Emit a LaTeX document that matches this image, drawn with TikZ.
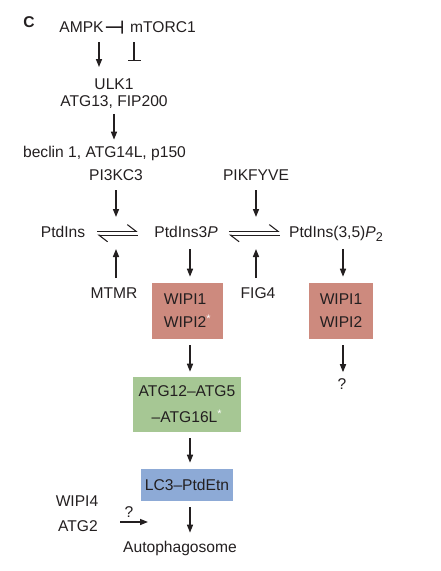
\documentclass[tikz,border=0pt]{standalone}
\usepackage{fontspec}
\setmainfont{Liberation Sans}
\usetikzlibrary{arrows.meta, positioning}

\definecolor{wipired}{RGB}{205,138,126}
\definecolor{atggreen}{RGB}{166,199,148}
\definecolor{lcblue}{RGB}{141,170,214}
\definecolor{ink}{RGB}{35,31,32}

\begin{document}
\begin{tikzpicture}[x=0.75pt,y=-0.75pt,>={Triangle[length=6pt,width=4.5pt]},font=\fontsize{11.7}{14}\selectfont]

            % Define styles
            \tikzstyle{txt} = [anchor=base, inner sep=0pt, text=ink]
            \tikzstyle{box} = [rectangle, inner sep=0pt, text=ink, align=left, font=\fontsize{11.7}{17.25}\selectfont]
            \tikzstyle{flow} = [->, draw=ink, line width=1.1pt]
            \tikzstyle{block} = [-{Bar[width=9.75pt]}, draw=ink, line width=1.1pt]
            \tikzstyle{harp} = [-{Straight Barb[left, length=6.5pt, width=10pt]}, draw=ink, line width=0.8pt]

            \useasboundingbox (0,0) rectangle (440,571);

            % Panel letter
            \node[txt, font=\bfseries\fontsize{11.7}{14}\selectfont] (panel) at (29,27) {C};

            % Upstream kinases
            \node[txt] (ampk) at (81.5,32.5) {AMPK};
            \node[txt] (mtorc) at (163,32.5) {mTORC1};
            \node[txt, align=center, anchor=north, font=\fontsize{11.7}{12.75}\selectfont] (ulk) at (114,78.5) {ULK1\\ATG13, FIP200};
            \node[txt] (beclin) at (104.5,157.5) {beclin 1, ATG14L, p150};
            \node[txt] (pi3kc3) at (116,180.5) {PI3KC3};
            \node[txt] (pikfyve) at (256,180.5) {PIKFYVE};

            % Phosphoinositides
            \node[txt] (ptdins) at (63,237.5) {PtdIns};
            \node[txt] (ptdins3p) at (186,237.5) {PtdIns3\textit{P}};
            \node[txt] (ptdins35) at (336,237.5) {PtdIns(3,5)\textit{P}\raisebox{-3pt}{\fontsize{9.5}{10}\selectfont 2}};
            \node[txt] (mtmr) at (114,298.5) {MTMR};
            \node[txt] (fig4) at (258,298.5) {FIG4};
            \coordinate (eqa) at (116,233);
            \coordinate (eqb) at (256,233);
            \coordinate (eqr) at (ptdins3p.east -| ptdins35.west);
            \coordinate (mainx) at (190,0);
            \coordinate (sidex) at (343,0);

            % Effectors
            \node[box, fill=wipired, minimum width=53.25pt, minimum height=42pt] (wipia) at (187.5,311) {WIPI1\\WIPI2\textsuperscript{\color{white}*}};
            \node[box, fill=wipired, minimum width=48pt, minimum height=42pt] (wipib) at (341,311) {WIPI1\\WIPI2};
            \node[txt] (qmark) at (342,389) {?};
            \node[box, fill=atggreen, align=center, minimum width=81pt, minimum height=41.25pt, font=\fontsize{11.7}{19.5}\selectfont] (atgbox) at (187,404.5) {ATG12--ATG5\\--ATG16L\textsuperscript{\color{white}*}};
            \node[box, fill=lcblue, minimum width=69pt, minimum height=24pt] (lcbox) at (187,485) {LC3--PtdEtn};
            \node[txt] (autoph) at (180,552.5) {Autophagosome};
            \node[txt] (wipi4) at (77,506.5) {WIPI4};
            \node[txt] (atg2) at (78,531.5) {ATG2};
            \node[txt] (qatg) at (129,517) {?};
            \coordinate (qend) at (148,522);
            \coordinate (ulkstop) at (134,61);

            % Signalling flows
            \draw[block, shorten <=1.5pt, shorten >=5.25pt] (ampk.east) -- (mtorc.west);
            \draw[flow, shorten <=7pt, shorten >=8.6pt] (ampk.south -| 99,0) -- (ulk.north -| 99,0);
            \draw[block, shorten <=7pt] (mtorc.south -| ulkstop) -- (ulkstop);
            \draw[flow, shorten <=3.9pt, shorten >=4.7pt] (ulk.south) -- (ulk.south |- beclin.north);
            \draw[flow, shorten <=7pt, shorten >=12pt] (pi3kc3.south -| eqa) -- (eqa);
            \draw[flow, shorten <=7pt, shorten >=12pt] (pikfyve.south -| eqb) -- (eqb);
            \draw[flow, shorten <=7pt, shorten >=12pt] (mtmr.north -| eqa) -- (eqa);
            \draw[flow, shorten <=7pt, shorten >=12pt] (fig4.north -| eqb) -- (eqb);

            % Equilibria
            \draw[harp, shorten <=9pt, shorten >=12.4pt] ([yshift=0.5pt]ptdins.east) -- ([yshift=0.5pt]ptdins3p.west);
            \draw[harp, shorten <=12.4pt, shorten >=9pt] ([yshift=-2.4pt]ptdins3p.west) -- ([yshift=-2.4pt]ptdins.east);
            \draw[harp, shorten <=8.25pt, shorten >=7pt] ([yshift=0.5pt]ptdins3p.east) -- ([yshift=0.5pt]eqr);
            \draw[harp, shorten <=7pt, shorten >=8.25pt] ([yshift=-2.4pt]eqr) -- ([yshift=-2.4pt]ptdins3p.east);

            % Downstream
            \draw[flow, shorten <=8.6pt, shorten >=4.5pt] (ptdins3p.south -| mainx) -- (wipia.north -| mainx);
            \draw[flow, shorten <=8.6pt, shorten >=4.5pt] (ptdins35.base -| sidex) -- (wipib.north -| sidex);
            \draw[flow, shorten <=4.5pt, shorten >=3.75pt] (wipia.south -| mainx) -- (atgbox.north -| mainx);
            \draw[flow, shorten <=4.5pt, shorten >=4.2pt] (wipib.south -| sidex) -- (qmark.north -| sidex);
            \draw[flow, shorten <=4.5pt, shorten >=4.5pt] (atgbox.south -| mainx) -- (lcbox.north -| mainx);
            \draw[flow, shorten <=4.5pt, shorten >=6.2pt] (lcbox.south -| mainx) -- (autoph.north -| mainx);
            \draw[flow, shorten <=16.5pt] (atg2.east |- qend) -- (qend);

        \end{tikzpicture}
\end{document}
